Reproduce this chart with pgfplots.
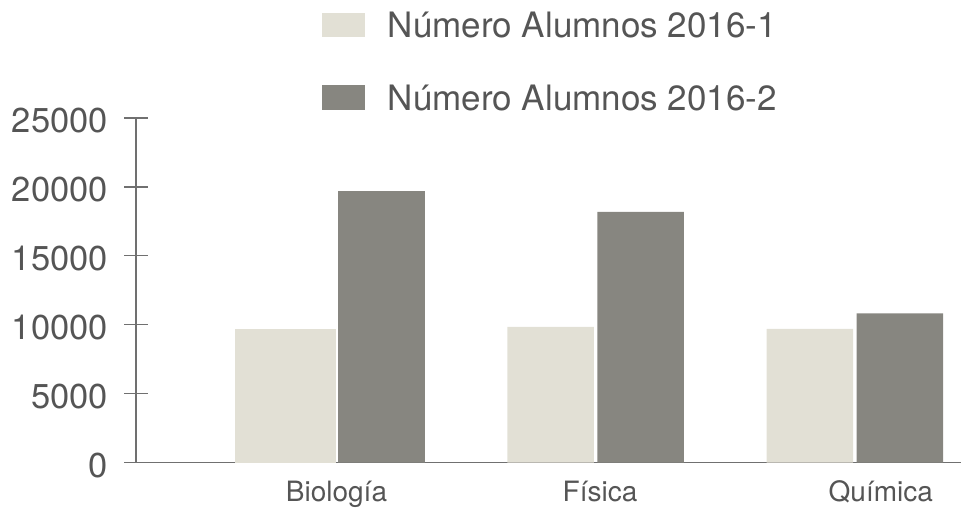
\documentclass[border=0pt]{standalone}
\usepackage{pgfplots}
\pgfplotsset{compat=1.18}
\usepackage{fontspec}
\setmainfont{TeX Gyre Heros}
\definecolor{lightbar}{RGB}{226,224,213}
\definecolor{darkbar}{RGB}{135,134,128}
\definecolor{axisgray}{RGB}{112,112,112}
\definecolor{txt}{RGB}{85,85,85}
\begin{document}
\begin{tikzpicture}
\useasboundingbox (0,0) rectangle (961pt,507pt);
\begin{axis}[
  at={(136pt,44.5pt)}, anchor=south west,
  scale only axis, width=825pt, height=344.5pt,
  xmin=-0.7735, xmax=2.4093, ymin=0, ymax=25000,
  enlargelimits=false,
  ybar, bar width=0.334,
  axis x line=bottom, axis y line=left,
  axis line style={-, draw=axisgray, line width=1.2pt},
  ytick={0,5000,10000,15000,20000,25000},
  scaled y ticks=false,
  /pgf/number format/1000 sep={},
  /pgf/number format/assume math mode=true,
  tick align=center, major tick length=24pt,
  y tick style={draw=axisgray, line width=1.2pt},
  x tick style={draw=none},
  xtick={0,1.0166,2.1},
  xticklabels={Biología,Física,Química},
  yticklabel style={font=\fontsize{34.5}{38}\selectfont, text=txt, inner sep=0pt, anchor=base east, xshift=-16pt, yshift=-14.5pt},
  xticklabel style={font=\fontsize{28}{32}\selectfont, text=txt, inner sep=0pt, anchor=base, yshift=-26.5pt},
  legend style={draw=none, fill=none, inner sep=0pt, outer sep=0pt,
    at={(axis description cs:0.22545,1.3068)}, anchor=north west,
    column sep=23pt, row sep=47.7pt,
    nodes={inner sep=0pt, text height=25pt, text depth=0pt, text=txt, font=\fontsize{35}{38}\selectfont}},
  legend cell align=left,
  clip=false,
]
% Número Alumnos 2016-1 (Biología bar is drawn wider in the reference)
\addplot[fill=lightbar, draw=none, bar width=0.39, bar shift=-0.197,
  legend image code/.code={\fill[fill=lightbar] (0pt,-12.25pt) rectangle (43pt,12.25pt);}]
  coordinates {(0,9690)};
\addlegendentry{Número Alumnos 2016-1}
\addplot[fill=lightbar, draw=none, bar shift=-0.1736, forget plot]
  coordinates {(1,9850) (2,9690)};
% Número Alumnos 2016-2
\addplot[fill=darkbar, draw=none, bar shift=0.1736,
  legend image code/.code={\fill[fill=darkbar] (0pt,-12.25pt) rectangle (43pt,12.25pt);}]
  coordinates {(0,19700) (1,18180) (2,10830)};
\addlegendentry{Número Alumnos 2016-2}
\end{axis}
\end{tikzpicture}
\end{document}
